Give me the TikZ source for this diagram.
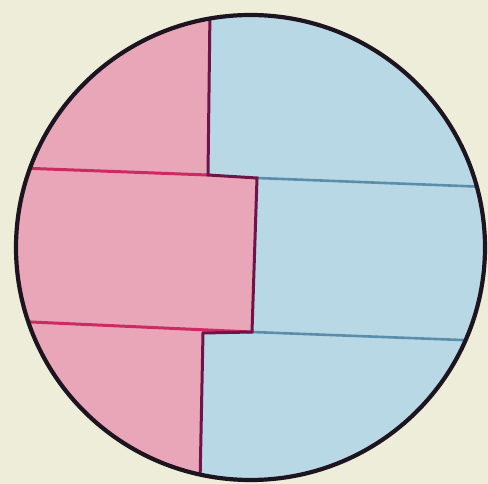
\documentclass[tikz,border=0pt]{standalone}
\definecolor{bgcream}{HTML}{EDEDDA}
\definecolor{pinkfill}{HTML}{E9A6B9}
\definecolor{bluefill}{HTML}{B9D8E6}
\definecolor{pinkline}{HTML}{CC2A62}
\definecolor{darkline}{HTML}{6E1446}
\definecolor{blueline}{HTML}{5A8EAA}
\definecolor{rimcol}{HTML}{1E1420}
\tikzset{
  pinkedge/.style={draw=pinkline,line width=3pt},
  darkedge/.style={draw=darkline,line width=3pt},
  blueedge/.style={draw=blueline,line width=2.6pt},
  rim/.style={draw=rimcol,line width=4.2pt}
}
\begin{document}
\begin{tikzpicture}[x=1pt,y=-1pt]
\fill[bgcream] (0,0) rectangle (488,484);
\useasboundingbox (0,0) rectangle (488,484);
\begin{scope}
\clip (250.5,247.5) ellipse [x radius=234.5, y radius=232.5];
\fill[bluefill] (0,0) rectangle (488,484);
\fill[pinkfill] (0,0) -- (210,0) -- (208,175) -- (257,178) -- (252,332) -- (203,333) -- (200,484) -- (0,484) -- cycle;
% lines
\coordinate (t1) at (210,10);
\coordinate (t2) at (208,175);
\coordinate (m1) at (257,178);
\coordinate (m2) at (252,332);
\coordinate (b1) at (203,333);
\coordinate (b2) at (200,484);
\coordinate (lh1) at (20,168);
\coordinate (lh2) at (20,321.5);
\coordinate (rh1) at (488,187);
\coordinate (rh2) at (488,341);
\draw[pinkedge] (lh1) -- (t2);
\draw[pinkedge] (lh2) -- (m2);
\draw[blueedge] (m1) -- (rh1);
\draw[blueedge] (m2) -- (rh2);
\draw[darkedge,line join=miter] (t1) -- (t2) -- (m1) -- (m2) -- (b1) -- (b2);
\end{scope}
\draw[rim] (250.5,247.5) ellipse [x radius=234.5, y radius=232.5];
\end{tikzpicture}
\end{document}
